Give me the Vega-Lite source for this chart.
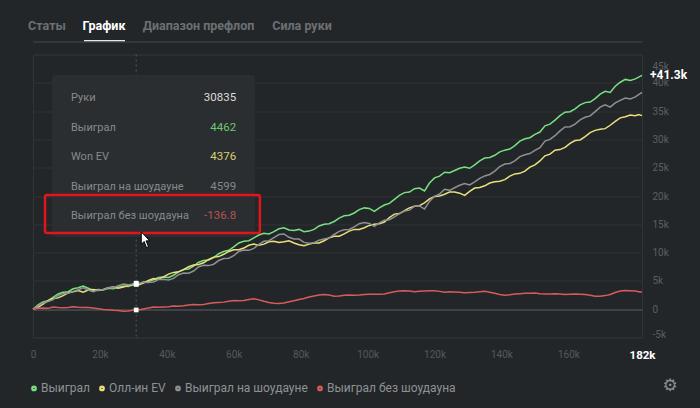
{
  "$schema": "https://vega.github.io/schema/vega-lite/v6.json",
  "width": 609,
  "height": 283,
  "autosize": {"type": "none"},
  "padding": {"left": 33, "top": 54.5, "right": 58, "bottom": 70.5},
  "background": "#232628",
  "config": {
    "view": {"stroke": "#303437", "strokeWidth": 1},
    "font": "Roboto",
    "legend": {
      "orient": "none",
      "legendX": -5,
      "legendY": 327.5,
      "direction": "horizontal",
      "title": null,
      "symbolType": "circle",
      "symbolSize": 5,
      "symbolStrokeWidth": 3.5,
      "labelColor": "#8e9295",
      "labelFontSize": 12,
      "labelFont": "Roboto",
      "columnPadding": 3,
      "labelOffset": 1,
      "padding": 0
    }
  },
  "data": {"values": [{}]},
  "datasets": {
    "main": [
      {"h":0,"Выиграл":0,"Олл-ин EV":0,"Выиграл на шоудауне":0,"Выиграл без шоудауна":0},
      {"h":1.5,"Выиграл":0.75,"Олл-ин EV":0.35,"Выиграл на шоудауне":0.6,"Выиграл без шоудауна":0.15},
      {"h":3,"Выиграл":1.3,"Олл-ин EV":0.9,"Выиграл на шоудауне":1.1,"Выиграл без шоудауна":0.2},
      {"h":4.5,"Выиграл":1.5,"Олл-ин EV":1.5,"Выиграл на шоудауне":1.35,"Выиграл без шоудауна":0.15},
      {"h":6,"Выиграл":2.1,"Олл-ин EV":1.9,"Выиграл на шоудауне":1.7,"Выиграл без шоудауна":0.4},
      {"h":7.5,"Выиграл":2.7,"Олл-ин EV":2.0,"Выиграл на шоудауне":2.4,"Выиграл без шоудауна":0.3},
      {"h":9,"Выиграл":3.0,"Олл-ин EV":2.4,"Выиграл на шоудауне":2.75,"Выиграл без шоудауна":0.25},
      {"h":10.5,"Выиграл":3.1,"Олл-ин EV":2.9,"Выиграл на шоудауне":2.8,"Выиграл без шоудауна":0.3},
      {"h":12,"Выиграл":3.6,"Олл-ин EV":3.1,"Выиграл на шоудауне":3.15,"Выиграл без шоудауна":0.45},
      {"h":13.5,"Выиграл":3.8,"Олл-ин EV":3.3,"Выиграл на шоудауне":3.45,"Выиграл без шоудауна":0.35},
      {"h":15,"Выиграл":4.1,"Олл-ин EV":3.0,"Выиграл на шоудауне":3.8,"Выиграл без шоудауна":0.3},
      {"h":16.5,"Выиграл":3.7,"Олл-ин EV":3.4,"Выиграл на шоудауне":3.4,"Выиграл без шоудауна":0.3},
      {"h":18,"Выиграл":3.3,"Олл-ин EV":3.5,"Выиграл на шоудауне":3.1,"Выиграл без шоудауна":0.2},
      {"h":19.5,"Выиграл":3.5,"Олл-ин EV":3.3,"Выиграл на шоудауне":3.4,"Выиграл без шоудауна":0.1},
      {"h":21,"Выиграл":3.4,"Олл-ин EV":3.5,"Выиграл на шоудауне":3.45,"Выиграл без шоудауна":-0.05},
      {"h":22.5,"Выиграл":3.7,"Олл-ин EV":3.8,"Выиграл на шоудауне":3.8,"Выиграл без шоудауна":-0.1},
      {"h":24,"Выиграл":3.6,"Олл-ин EV":3.9,"Выиграл на шоудауне":3.8,"Выиграл без шоудауна":-0.2},
      {"h":25.5,"Выиграл":3.9,"Олл-ин EV":3.7,"Выиграл на шоудауне":4.15,"Выиграл без шоудауна":-0.25},
      {"h":27,"Выиграл":4.1,"Олл-ин EV":3.9,"Выиграл на шоудауне":4.45,"Выиграл без шоудауна":-0.35},
      {"h":28.5,"Выиграл":4.0,"Олл-ин EV":4.2,"Выиграл на шоудауне":4.3,"Выиграл без шоудауна":-0.3},
      {"h":30,"Выиграл":4.35,"Олл-ин EV":4.3,"Выиграл на шоудауне":4.5,"Выиграл без шоудауна":-0.15},
      {"h":30.835,"Выиграл":4.462,"Олл-ин EV":4.376,"Выиграл на шоудауне":4.599,"Выиграл без шоудауна":-0.137},
      {"h":31.5,"Выиграл":4.4,"Олл-ин EV":4.3,"Выиграл на шоудауне":4.55,"Выиграл без шоудауна":-0.15},
      {"h":33,"Выиграл":4.8,"Олл-ин EV":4.6,"Выиграл на шоудауне":4.75,"Выиграл без шоудауна":0.05},
      {"h":34.5,"Выиграл":4.9,"Олл-ин EV":5.1,"Выиграл на шоудауне":4.7,"Выиграл без шоудауна":0.2},
      {"h":36,"Выиграл":5.2,"Олл-ин EV":5.4,"Выиграл на шоудауне":4.8,"Выиграл без шоудауна":0.4},
      {"h":37.5,"Выиграл":5.6,"Олл-ин EV":5.3,"Выиграл на шоудауне":5.25,"Выиграл без шоудауна":0.35},
      {"h":39,"Выиграл":5.7,"Олл-ин EV":5.7,"Выиграл на шоудауне":5.3,"Выиграл без шоудауна":0.4},
      {"h":40.5,"Выиграл":5.6,"Олл-ин EV":6.2,"Выиграл на шоудауне":5.15,"Выиграл без шоудауна":0.45},
      {"h":42,"Выиграл":6.0,"Олл-ин EV":6.5,"Выиграл на шоудауне":5.45,"Выиграл без шоудауна":0.55},
      {"h":43.5,"Выиграл":6.6,"Олл-ин EV":6.6,"Выиграл на шоудауне":6.1,"Выиграл без шоудауна":0.5},
      {"h":45,"Выиграл":7.0,"Олл-ин EV":7.0,"Выиграл на шоудауне":6.4,"Выиграл без шоудауна":0.6},
      {"h":46.5,"Выиграл":7.1,"Олл-ин EV":7.5,"Выиграл на шоудауне":6.35,"Выиграл без шоудауна":0.75},
      {"h":48,"Выиграл":7.6,"Олл-ин EV":7.8,"Выиграл на шоудауне":6.75,"Выиграл без шоудауна":0.85},
      {"h":49.5,"Выиграл":8.3,"Олл-ин EV":7.9,"Выиграл на шоудауне":7.5,"Выиграл без шоудауна":0.8},
      {"h":51,"Выиграл":8.6,"Олл-ин EV":8.2,"Выиграл на шоудауне":7.75,"Выиграл без шоудауна":0.85},
      {"h":52.5,"Выиграл":8.7,"Олл-ин EV":8.8,"Выиграл на шоудауне":7.7,"Выиграл без шоудауна":1.0},
      {"h":54,"Выиграл":9.1,"Олл-ин EV":9.2,"Выиграл на шоудауне":7.95,"Выиграл без шоудауна":1.15},
      {"h":55.5,"Выиграл":9.8,"Олл-ин EV":9.3,"Выиграл на шоудауне":8.6,"Выиграл без шоудауна":1.2},
      {"h":57,"Выиграл":10.2,"Олл-ин EV":9.7,"Выиграл на шоудауне":8.95,"Выиграл без шоудауна":1.25},
      {"h":58.5,"Выиграл":10.4,"Олл-ин EV":10.2,"Выиграл на шоудауне":9.0,"Выиграл без шоудауна":1.4},
      {"h":60,"Выиграл":11.0,"Олл-ин EV":10.5,"Выиграл на шоудауне":9.45,"Выиграл без шоудауна":1.55},
      {"h":61.5,"Выиграл":11.7,"Олл-ин EV":10.5,"Выиграл на шоудауне":10.2,"Выиграл без шоудауна":1.5},
      {"h":63,"Выиграл":12.0,"Олл-ин EV":10.8,"Выиграл на шоудауне":10.45,"Выиграл без шоудауна":1.55},
      {"h":64.5,"Выиграл":12.1,"Олл-ин EV":11.3,"Выиграл на шоудауне":10.4,"Выиграл без шоудауна":1.7},
      {"h":66,"Выиграл":12.6,"Олл-ин EV":11.5,"Выиграл на шоудауне":10.75,"Выиграл без шоудауна":1.85},
      {"h":67.5,"Выиграл":13.1,"Олл-ин EV":11.3,"Выиграл на шоудауне":11.45,"Выиграл без шоудауна":1.65},
      {"h":69,"Выиграл":13.4,"Олл-ин EV":11.5,"Выиграл на шоудауне":12.0,"Выиграл без шоудауна":1.4},
      {"h":70.5,"Выиграл":13.3,"Олл-ин EV":11.9,"Выиграл на шоудауне":12.1,"Выиграл без шоудауна":1.2},
      {"h":72,"Выиграл":13.7,"Олл-ин EV":12.0,"Выиграл на шоудауне":12.65,"Выиграл без шоудауна":1.05},
      {"h":73.5,"Выиграл":14.2,"Олл-ин EV":11.8,"Выиграл на шоудауне":13.2,"Выиграл без шоудауна":1.0},
      {"h":75,"Выиграл":14.4,"Олл-ин EV":11.9,"Выиграл на шоудауне":13.3,"Выиграл без шоудауна":1.1},
      {"h":76.5,"Выиграл":14.0,"Олл-ин EV":12.1,"Выиграл на шоудауне":12.7,"Выиграл без шоудауна":1.3},
      {"h":78,"Выиграл":13.9,"Олл-ин EV":11.7,"Выиграл на шоудауне":12.4,"Выиграл без шоудауна":1.5},
      {"h":79.5,"Выиграл":14.1,"Олл-ин EV":11.4,"Выиграл на шоудауне":12.4,"Выиграл без шоудауна":1.7},
      {"h":81,"Выиграл":13.7,"Олл-ин EV":11.2,"Выиграл на шоудауне":11.8,"Выиграл без шоудауна":1.9},
      {"h":82.5,"Выиграл":13.8,"Олл-ин EV":11.5,"Выиграл на шоудауне":11.65,"Выиграл без шоудауна":2.15},
      {"h":84,"Выиграл":14.1,"Олл-ин EV":11.7,"Выиграл на шоудауне":11.75,"Выиграл без шоудауна":2.35},
      {"h":85.5,"Выиграл":14.7,"Олл-ин EV":11.7,"Выиграл на шоудауне":12.2,"Выиграл без шоудауна":2.5},
      {"h":87,"Выиграл":15.0,"Олл-ин EV":12.1,"Выиграл на шоудауне":12.4,"Выиграл без шоудауна":2.6},
      {"h":88.5,"Выиграл":15.1,"Олл-ин EV":12.6,"Выиграл на шоудауне":12.6,"Выиграл без шоудауна":2.5},
      {"h":90,"Выиграл":15.5,"Олл-ин EV":12.9,"Выиграл на шоудауне":13.2,"Выиграл без шоудауна":2.3},
      {"h":91.5,"Выиграл":16.1,"Олл-ин EV":12.9,"Выиграл на шоудауне":13.75,"Выиграл без шоудауна":2.35},
      {"h":93,"Выиграл":16.5,"Олл-ин EV":13.3,"Выиграл на шоудауне":14.05,"Выиграл без шоудауна":2.45},
      {"h":94.5,"Выиграл":16.6,"Олл-ин EV":13.8,"Выиграл на шоудауне":14.1,"Выиграл без шоудауна":2.5},
      {"h":96,"Выиграл":17.0,"Олл-ин EV":14.1,"Выиграл на шоудауне":14.55,"Выиграл без шоудауна":2.45},
      {"h":97.5,"Выиграл":17.6,"Олл-ин EV":14.1,"Выиграл на шоудауне":15.1,"Выиграл без шоудауна":2.5},
      {"h":99,"Выиграл":17.9,"Олл-ин EV":14.4,"Выиграл на шоудауне":15.3,"Выиграл без шоудауна":2.6},
      {"h":100.5,"Выиграл":17.8,"Олл-ин EV":14.8,"Выиграл на шоудауне":15.15,"Выиграл без шоудауна":2.65},
      {"h":102,"Выиграл":17.3,"Олл-ин EV":15.0,"Выиграл на шоудауне":14.65,"Выиграл без шоудауна":2.65},
      {"h":103.5,"Выиграл":17.9,"Олл-ин EV":15.1,"Выиграл на шоудауне":15.25,"Выиграл без шоудауна":2.65},
      {"h":105,"Выиграл":18.4,"Олл-ин EV":15.4,"Выиграл на шоудауне":15.7,"Выиграл без шоудауна":2.7},
      {"h":106.5,"Выиграл":18.7,"Олл-ин EV":16.2,"Выиграл на шоудауне":15.8,"Выиграл без шоудауна":2.9},
      {"h":108,"Выиграл":19.4,"Олл-ин EV":16.8,"Выиграл на шоудауне":16.3,"Выиграл без шоудауна":3.1},
      {"h":109.5,"Выиграл":20.1,"Олл-ин EV":16.9,"Выиграл на шоудауне":16.9,"Выиграл без шоудауна":3.2},
      {"h":111,"Выиграл":20.6,"Олл-ин EV":17.4,"Выиграл на шоудауне":17.35,"Выиграл без шоудауна":3.25},
      {"h":112.5,"Выиграл":20.7,"Олл-ин EV":17.9,"Выиграл на шоудауне":17.5,"Выиграл без шоудауна":3.2},
      {"h":114,"Выиграл":21.3,"Олл-ин EV":18.2,"Выиграл на шоудауне":18.2,"Выиграл без шоудауна":3.1},
      {"h":115.5,"Выиграл":21.4,"Олл-ин EV":18.3,"Выиграл на шоудауне":18.25,"Выиграл без шоудауна":3.15},
      {"h":117,"Выиграл":20.9,"Олл-ин EV":18.8,"Выиграл на шоудауне":17.7,"Выиграл без шоудауна":3.2},
      {"h":118.5,"Выиграл":22.3,"Олл-ин EV":19.5,"Выиграл на шоудауне":19.05,"Выиграл без шоудауна":3.25},
      {"h":120,"Выиграл":23.2,"Олл-ин EV":19.9,"Выиграл на шоудауне":19.95,"Выиграл без шоудауна":3.25},
      {"h":121.5,"Выиграл":23.5,"Олл-ин EV":20.0,"Выиграл на шоудауне":20.35,"Выиграл без шоудауна":3.15},
      {"h":123,"Выиграл":24.2,"Олл-ин EV":20.3,"Выиграл на шоудауне":21.2,"Выиграл без шоудауна":3.0},
      {"h":124.5,"Выиграл":24.1,"Олл-ин EV":20.7,"Выиграл на шоудауне":21.0,"Выиграл без шоудауна":3.1},
      {"h":126,"Выиграл":24.5,"Олл-ин EV":20.7,"Выиграл на шоудауне":21.45,"Выиграл без шоудауна":3.05},
      {"h":127.5,"Выиграл":24.9,"Олл-ин EV":20.5,"Выиграл на шоудауне":21.9,"Выиграл без шоудауна":3.0},
      {"h":129,"Выиграл":25.1,"Олл-ин EV":20.1,"Выиграл на шоудауне":22.2,"Выиграл без шоудауна":2.9},
      {"h":130.5,"Выиграл":24.9,"Олл-ин EV":20.8,"Выиграл на шоудауне":21.95,"Выиграл без шоудауна":2.95},
      {"h":132,"Выиграл":25.5,"Олл-ин EV":21.4,"Выиграл на шоудауне":22.5,"Выиграл без шоудауна":3.0},
      {"h":133.5,"Выиграл":26.2,"Олл-ин EV":21.5,"Выиграл на шоудауне":23.1,"Выиграл без шоудауна":3.1},
      {"h":135,"Выиграл":26.7,"Олл-ин EV":21.8,"Выиграл на шоудауне":23.55,"Выиграл без шоудауна":3.15},
      {"h":136.5,"Выиграл":26.8,"Олл-ин EV":22.3,"Выиграл на шоудауне":23.8,"Выиграл без шоудауна":3.0},
      {"h":138,"Выиграл":27.2,"Олл-ин EV":22.5,"Выиграл на шоудауне":24.4,"Выиграл без шоудауна":2.8},
      {"h":139.5,"Выиграл":27.8,"Олл-ин EV":22.6,"Выиграл на шоудауне":25.2,"Выиграл без шоудауна":2.6},
      {"h":141,"Выиграл":28.1,"Олл-ин EV":22.9,"Выиграл на шоудауне":25.65,"Выиграл без шоудауна":2.45},
      {"h":142.5,"Выиграл":28.3,"Олл-ин EV":23.5,"Выиграл на шоудауне":25.75,"Выиграл без шоудауна":2.55},
      {"h":144,"Выиграл":28.9,"Олл-ин EV":23.9,"Выиграл на шоудауне":26.2,"Выиграл без шоудауна":2.7},
      {"h":145.5,"Выиграл":29.7,"Олл-ин EV":24.0,"Выиграл на шоудауне":26.95,"Выиграл без шоудауна":2.75},
      {"h":147,"Выиграл":30.1,"Олл-ин EV":24.4,"Выиграл на шоудауне":27.3,"Выиграл без шоудауна":2.8},
      {"h":148.5,"Выиграл":30.3,"Олл-ин EV":25.1,"Выиграл на шоудауне":27.5,"Выиграл без шоудауна":2.8},
      {"h":150,"Выиграл":30.9,"Олл-ин EV":25.5,"Выиграл на шоудауне":28.05,"Выиграл без шоудауна":2.85},
      {"h":151.5,"Выиграл":31.3,"Олл-ин EV":26.2,"Выиграл на шоудауне":28.55,"Выиграл без шоудауна":2.75},
      {"h":153,"Выиграл":32.4,"Олл-ин EV":27.1,"Выиграл на шоудауне":29.7,"Выиграл без шоудауна":2.7},
      {"h":154.5,"Выиграл":32.7,"Олл-ин EV":27.4,"Выиграл на шоудауне":30.0,"Выиграл без шоудауна":2.7},
      {"h":156,"Выиграл":33.4,"Олл-ин EV":28.1,"Выиграл на шоудауне":30.65,"Выиграл без шоудауна":2.75},
      {"h":157.5,"Выиграл":34.2,"Олл-ин EV":28.2,"Выиграл на шоудауне":31.5,"Выиграл без шоудауна":2.7},
      {"h":159,"Выиграл":34.8,"Олл-ин EV":28.6,"Выиграл на шоудауне":32.2,"Выиграл без шоудауна":2.6},
      {"h":160.5,"Выиграл":34.9,"Олл-ин EV":29.3,"Выиграл на шоудауне":32.25,"Выиграл без шоудауна":2.65},
      {"h":162,"Выиграл":35.4,"Олл-ин EV":29.8,"Выиграл на шоудауне":32.7,"Выиграл без шоудауна":2.7},
      {"h":163.5,"Выиграл":36.1,"Олл-ин EV":29.9,"Выиграл на шоудауне":33.45,"Выиграл без шоудауна":2.65},
      {"h":165,"Выиграл":36.5,"Олл-ин EV":30.5,"Выиграл на шоудауне":33.9,"Выиграл без шоудауна":2.6},
      {"h":166.5,"Выиграл":36.6,"Олл-ин EV":31.2,"Выиграл на шоудауне":34.15,"Выиграл без шоудауна":2.45},
      {"h":168,"Выиграл":37.2,"Олл-ин EV":31.6,"Выиграл на шоудауне":34.9,"Выиграл без шоудауна":2.3},
      {"h":169.5,"Выиграл":38.0,"Олл-ин EV":31.8,"Выиграл на шоудауне":35.7,"Выиграл без шоудауна":2.3},
      {"h":171,"Выиграл":38.5,"Олл-ин EV":31.9,"Выиграл на шоудауне":36.1,"Выиграл без шоудауна":2.4},
      {"h":172.5,"Выиграл":38.3,"Олл-ин EV":32.5,"Выиграл на шоудауне":35.7,"Выиграл без шоудауна":2.6},
      {"h":174,"Выиграл":39.4,"Олл-ин EV":33.2,"Выиграл на шоудауне":36.45,"Выиграл без шоудауна":2.95},
      {"h":175.5,"Выиграл":40.1,"Олл-ин EV":33.8,"Выиграл на шоудауне":36.9,"Выиграл без шоудауна":3.2},
      {"h":177,"Выиграл":40.6,"Олл-ин EV":34.0,"Выиграл на шоудауне":37.3,"Выиграл без шоудауна":3.3},
      {"h":178.5,"Выиграл":40.4,"Олл-ин EV":34.3,"Выиграл на шоудауне":37.15,"Выиграл без шоудауна":3.25},
      {"h":180,"Выиграл":40.7,"Олл-ин EV":34.2,"Выиграл на шоудауне":37.5,"Выиграл без шоудауна":3.2},
      {"h":181,"Выиграл":41.0,"Олл-ин EV":34.4,"Выиграл на шоудауне":37.9,"Выиграл без шоудауна":3.1},
      {"h":182,"Выиграл":41.3,"Олл-ин EV":34.2,"Выиграл на шоудауне":38.3,"Выиграл без шоудауна":3.0}
    ],
    "tip": [
      {"i":1,"label":"Руки","value":"30835"},
      {"i":2,"label":"Выиграл","value":"4462"},
      {"i":3,"label":"Won EV","value":"4376"},
      {"i":4,"label":"Выиграл на шоудауне","value":"4599"},
      {"i":5,"label":"Выиграл без шоудауна","value":"-136.8"}
    ],
    "end": [
      {"h":182,"v":41.3,"label":"+41.3k"}
    ]
  },
  "resolve": {
    "scale": {"y": "independent", "color": "independent"},
    "axis": {"x": "independent", "y": "independent"}
  },
  "layer": [
    {
      "mark": {"type": "rule", "color": "#55595c", "strokeDash": [2, 3], "strokeWidth": 1},
      "encoding": {
        "x": {"datum": 30.835, "type": "quantitative", "axis": null}
      }
    },
    {
      "data": {"name": "main"},
      "transform": [
        {"fold": ["Выиграл", "Олл-ин EV", "Выиграл на шоудауне", "Выиграл без шоудауна"], "as": ["series", "value"]}
      ],
      "mark": {"type": "line", "strokeWidth": 1.5, "interpolate": "linear"},
      "encoding": {
        "x": {
          "field": "h", "type": "quantitative",
          "scale": {"domain": [0, 182], "nice": false, "zero": false},
          "axis": {
            "orient": "bottom",
            "title": null,
            "values": [0, 20, 40, 60, 80, 100, 120, 140, 160, 182],
            "labelExpr": "datum.value == 0 ? '0' : datum.value + 'k'",
            "grid": false,
            "domain": false,
            "ticks": false,
            "labelFlush": false,
            "labelOverlap": false,
            "labelPadding": 12,
            "labelFont": "Roboto",
            "labelFontSize": {"condition": {"test": "datum.value == 182", "value": 11.5}, "value": 10},
            "labelFontWeight": {"condition": {"test": "datum.value == 182", "value": "bold"}, "value": "normal"},
            "labelColor": {"condition": {"test": "datum.value == 182", "value": "#ffffff"}, "value": "#55595c"}
          }
        },
        "y": {
          "field": "value", "type": "quantitative",
          "scale": {"domain": [-5, 45], "nice": false, "zero": false},
          "axis": {
            "orient": "right",
            "title": null,
            "values": [-5, 0, 5, 10, 15, 20, 25, 30, 35, 40, 45],
            "labelExpr": "datum.value == 0 ? '0' : datum.value + 'k'",
            "domain": false,
            "ticks": false,
            "labelPadding": 10,
            "labelFont": "Roboto",
            "labelFontSize": 10,
            "labelColor": "#5b5f62",
            "labelOverlap": false,
            "labelFlush": false,
            "labelOffset": {"condition": {"test": "datum.value == 45", "value": 12}, "value": 0},
            "labelBaseline": {"condition": {"test": "datum.value == -5", "value": "alphabetic"}, "value": "middle"},
            "grid": true,
            "gridColor": {"condition": {"test": "datum.value == 0", "value": "#4a4e51"}, "value": "#2f3336"},
            "gridWidth": {"condition": {"test": "datum.value == 0", "value": 1.6}, "value": 1}
          }
        },
        "color": {
          "field": "series", "type": "nominal",
          "scale": {
            "domain": ["Выиграл", "Олл-ин EV", "Выиграл на шоудауне", "Выиграл без шоудауна"],
            "range": ["#79e07f", "#ece07c", "#8f9092", "#d65c5c"]
          },
          "legend": {"orient": "none", "legendX": -5, "legendY": 327.5, "direction": "horizontal", "title": null}
        }
      }
    },
    {
      "data": {"name": "main"},
      "transform": [
        {"filter": "datum.h == 30.835"},
        {"fold": ["Выиграл", "Олл-ин EV", "Выиграл на шоудауне", "Выиграл без шоудауна"], "as": ["series", "value"]}
      ],
      "mark": {"type": "point", "shape": "square", "filled": true, "color": "#ffffff", "size": 22, "opacity": 1},
      "encoding": {
        "x": {"field": "h", "type": "quantitative", "axis": null},
        "y": {"field": "value", "type": "quantitative", "axis": null, "scale": {"domain": [-5, 45], "nice": false, "zero": false}}
      }
    },
    {
      "data": {"name": "end"},
      "mark": {"type": "text", "align": "left", "baseline": "middle", "dx": 8, "fontWeight": "bold", "fontSize": 12, "color": "#ffffff", "font": "Roboto"},
      "encoding": {
        "x": {"field": "h", "type": "quantitative", "axis": null},
        "y": {"field": "v", "type": "quantitative", "axis": null, "scale": {"domain": [-5, 45], "nice": false, "zero": false}},
        "text": {"field": "label"}
      }
    },
    {
      "mark": {"type": "text", "text": "⚙", "font": "DejaVu Sans", "fontSize": 17, "color": "#8c8f92", "align": "center", "baseline": "middle"},
      "encoding": {
        "x": {"datum": 190.4, "type": "quantitative", "axis": null},
        "y": {"datum": -13.57, "type": "quantitative", "axis": null, "scale": {"domain": [-5, 45], "nice": false, "zero": false}}
      }
    },
    {
      "mark": {"type": "rect", "color": "#2b2e31", "cornerRadius": 3},
      "encoding": {
        "x": {
          "datum": 5.68, "type": "quantitative",
          "axis": {
            "orient": "top",
            "title": null,
            "values": [4.03, 21.07, 49.3, 80.24],
            "labelExpr": "datum.value < 10 ? 'Статы' : datum.value < 30 ? 'График' : datum.value < 60 ? 'Диапазон префлоп' : 'Сила руки'",
            "grid": false,
            "domain": true,
            "domainColor": "#3b3f42",
            "domainWidth": 1.5,
            "ticks": true,
            "tickSize": 2,
            "tickWidth": 41,
            "tickCap": "butt",
            "tickColor": {"condition": {"test": "datum.value > 20 && datum.value < 22", "value": "#e6e6e6"}, "value": "transparent"},
            "labelFlush": false,
            "labelOverlap": false,
            "labelPadding": 7,
            "labelFont": "Roboto",
            "labelFontSize": 12.5,
            "labelFontWeight": "bold",
            "labelColor": {"condition": {"test": "datum.value > 20 && datum.value < 22", "value": "#ffffff"}, "value": "#6c7073"},
            "offset": 13
          }
        },
        "x2": {"datum": 66.3},
        "y": {"datum": 0.22, "type": "quantitative", "axis": null, "scale": {"domain": [-0.4746, 9.1186], "reverse": true, "nice": false, "zero": false}},
        "y2": {"datum": 5.71}
      }
    },
    {
      "data": {"name": "tip"},
      "mark": {"type": "text", "align": "left", "baseline": "middle", "fontSize": 11, "color": "#878a8d", "font": "Roboto"},
      "encoding": {
        "x": {"datum": 11.36, "type": "quantitative", "axis": null},
        "y": {"field": "i", "type": "quantitative", "axis": null, "scale": {"domain": [-0.4746, 9.1186], "reverse": true, "nice": false, "zero": false}},
        "text": {"field": "label"}
      }
    },
    {
      "data": {"name": "tip"},
      "mark": {"type": "text", "align": "right", "baseline": "middle", "fontSize": 11.5, "font": "Roboto"},
      "encoding": {
        "x": {"datum": 60.7, "type": "quantitative", "axis": null},
        "y": {"field": "i", "type": "quantitative", "axis": null, "scale": {"domain": [-0.4746, 9.1186], "reverse": true, "nice": false, "zero": false}},
        "text": {"field": "value"},
        "color": {
          "field": "label", "type": "nominal", "legend": null,
          "scale": {
            "domain": ["Руки", "Выиграл", "Won EV", "Выиграл на шоудауне", "Выиграл без шоудауна"],
            "range": ["#dcdcdc", "#6cc870", "#d8cf6c", "#85878a", "#b8524f"]
          }
        }
      }
    },
    {
      "mark": {"type": "rect", "fill": "transparent", "stroke": "#e0161c", "strokeWidth": 2.5, "cornerRadius": 2},
      "encoding": {
        "x": {"datum": 3.59, "type": "quantitative", "axis": null},
        "x2": {"datum": 67.8},
        "y": {"datum": 4.29, "type": "quantitative", "axis": null, "scale": {"domain": [-0.4746, 9.1186], "reverse": true, "nice": false, "zero": false}},
        "y2": {"datum": 5.58}
      }
    },
    {
      "mark": {"type": "point", "shape": "M-0.6,-1 L-0.6,0.55 L-0.25,0.2 L0.05,0.95 L0.3,0.85 L0,0.12 L0.45,0.12 Z", "filled": true, "fill": "#ffffff", "stroke": "#000000", "strokeWidth": 1, "size": 260, "opacity": 1},
      "encoding": {
        "x": {"datum": 33.8, "type": "quantitative", "axis": null},
        "y": {"datum": 5.81, "type": "quantitative", "axis": null, "scale": {"domain": [-0.4746, 9.1186], "reverse": true, "nice": false, "zero": false}}
      }
    }
  ]
}
